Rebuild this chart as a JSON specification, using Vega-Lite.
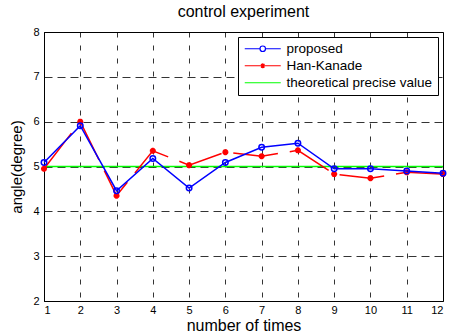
{
  "$schema": "https://vega.github.io/schema/vega-lite/v6.json",
  "width": 399,
  "height": 269,
  "autosize": "none",
  "padding": {"left": 44, "top": 32, "right": 9, "bottom": 35},
  "background": "white",
  "title": {"text": "control experiment", "font": "Liberation Sans", "fontSize": 16, "fontWeight": "normal", "color": "black", "anchor": "middle", "offset": 6},
  "config": {
    "view": {"stroke": "black", "strokeWidth": 1},
    "axis": {"labelFont": "Liberation Sans", "labelFontSize": 11, "labelColor": "black", "titleFont": "Liberation Sans", "titleFontSize": 16, "titleFontWeight": "normal", "titleColor": "black", "domainColor": "black", "ticks": false, "gridColor": "black", "gridOpacity": 1, "gridWidth": 0.8}
  },
  "datasets": {
    "main": [
      {"x": 1, "value": 5.09, "series": "proposed"},
      {"x": 2, "value": 5.91, "series": "proposed"},
      {"x": 3, "value": 4.46, "series": "proposed"},
      {"x": 4, "value": 5.18, "series": "proposed"},
      {"x": 5, "value": 4.52, "series": "proposed"},
      {"x": 6, "value": 5.09, "series": "proposed"},
      {"x": 7, "value": 5.43, "series": "proposed"},
      {"x": 8, "value": 5.52, "series": "proposed"},
      {"x": 9, "value": 4.95, "series": "proposed"},
      {"x": 10, "value": 4.95, "series": "proposed"},
      {"x": 11, "value": 4.9, "series": "proposed"},
      {"x": 12, "value": 4.85, "series": "proposed"},
      {"x": 1, "value": 4.95, "series": "Han-Kanade"},
      {"x": 2, "value": 6.0, "series": "Han-Kanade"},
      {"x": 3, "value": 4.35, "series": "Han-Kanade"},
      {"x": 4, "value": 5.35, "series": "Han-Kanade"},
      {"x": 5, "value": 5.03, "series": "Han-Kanade"},
      {"x": 6, "value": 5.32, "series": "Han-Kanade"},
      {"x": 7, "value": 5.23, "series": "Han-Kanade"},
      {"x": 8, "value": 5.36, "series": "Han-Kanade"},
      {"x": 9, "value": 4.83, "series": "Han-Kanade"},
      {"x": 10, "value": 4.74, "series": "Han-Kanade"},
      {"x": 11, "value": 4.87, "series": "Han-Kanade"},
      {"x": 12, "value": 4.83, "series": "Han-Kanade"},
      {"x": 1, "value": 5, "series": "theoretical precise value"},
      {"x": 12, "value": 5, "series": "theoretical precise value"}
    ]
  },
  "data": {"name": "main"},
  "encoding": {
    "x": {"field": "x", "type": "quantitative", "scale": {"domain": [1, 12], "nice": false, "zero": false},
      "axis": {"values": [1,2,3,4,5,6,7,8,9,10,11,12], "format": "d", "title": "number of times", "labelPadding": 3, "titlePadding": 2, "grid": true, "gridDash": [5, 8]}},
    "y": {"field": "value", "type": "quantitative", "scale": {"domain": [2, 8], "nice": false, "zero": false},
      "axis": {"values": [2,3,4,5,6,7,8], "format": "d", "title": "angle(degree)", "titleFontSize": 15, "labelPadding": 5, "titlePadding": 8, "grid": true, "gridDash": [8, 5]}},
    "color": {"field": "series", "type": "nominal",
      "scale": {"domain": ["proposed", "Han-Kanade", "theoretical precise value"], "range": ["#0000ff", "#ff0000", "#00ff00"]},
      "legend": {"orient": "top-right", "offset": 5, "title": null, "fillColor": "white", "strokeColor": "black", "padding": 5,
        "labelFont": "Liberation Sans", "labelFontSize": 13.5, "labelColor": "black", "labelOffset": 30,
        "symbolSize": 100, "symbolStrokeWidth": 1.2, "rowPadding": 2,
        "encode": {"symbols": {"update": {
          "shape": {"signal": "datum.value === 'proposed' ? 'M-1,0L2.05,0M3.15,0L6.2,0M2.05,0A0.55,0.55,0,1,1,3.15,0A0.55,0.55,0,1,1,2.05,0' : datum.value === 'Han-Kanade' ? 'M-1,0L6.2,0M2.6,-0.5L2.6,0.5M2.25,-0.35L2.95,0.35M2.25,0.35L2.95,-0.35' : 'M-1,0L6.2,0'"},
          "fill": {"value": "transparent"},
          "strokeDash": {"value": []}
        }}}}
    }
  },
  "layer": [
    {"mark": {"type": "line", "strokeWidth": 1.5}, "transform": [{"filter": "datum.series === 'theoretical precise value'"}]},
    {"mark": {"type": "line", "strokeWidth": 1.5, "strokeDash": [45, 12]}, "transform": [{"filter": "datum.series === 'Han-Kanade'"}]},
    {"mark": {"type": "point", "shape": "M-1,0L1,0M0,-1L0,1M-0.7,-0.7L0.7,0.7M-0.7,0.7L0.7,-0.7", "size": 36, "filled": false, "strokeWidth": 2, "opacity": 1}, "transform": [{"filter": "datum.series === 'Han-Kanade'"}]},
    {"mark": {"type": "line", "strokeWidth": 1.5}, "transform": [{"filter": "datum.series === 'proposed'"}]},
    {"mark": {"type": "point", "shape": "circle", "size": 30, "filled": false, "strokeWidth": 1.5, "opacity": 1}, "transform": [{"filter": "datum.series === 'proposed'"}]}
  ]
}
